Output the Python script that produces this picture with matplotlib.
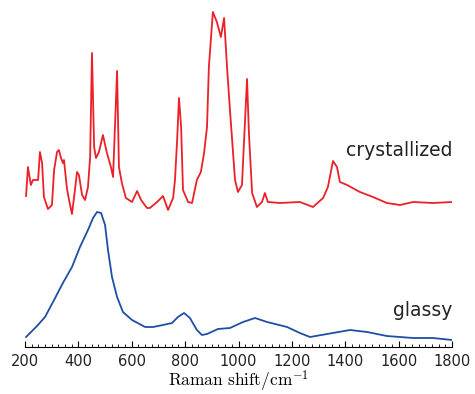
import numpy as np
import matplotlib
matplotlib.use("Agg")
import matplotlib.pyplot as plt
from matplotlib.ticker import MultipleLocator

# crystallized spectrum (Raman shift in cm-1, intensity in a.u.)
cryst_shift = [204, 211, 222, 230, 249, 256, 264, 271, 286, 301, 309, 320, 327, 335, 342, 346,
               357, 365, 376, 384, 395, 402, 414, 425, 436, 444, 451, 459, 466, 477, 492,
               507, 522, 530, 545, 552, 563, 578, 601, 620, 635, 657, 668, 695, 717, 736,
               755, 762, 770, 777, 785, 792, 811, 826, 844, 859, 871, 882, 889, 904, 919,
               934, 946, 957, 968, 987, 998, 1013, 1021, 1032, 1039, 1051, 1069, 1088,
               1099, 1110, 1155, 1230, 1279, 1317, 1335, 1354, 1369, 1380, 1407, 1455,
               1504, 1556, 1605, 1654, 1729, 1800]
cryst_int = [1.51, 1.80, 1.62, 1.67, 1.67, 1.95, 1.84, 1.50, 1.38, 1.42, 1.77, 1.95, 1.97, 1.89, 1.84, 1.87,
             1.59, 1.47, 1.33, 1.50, 1.75, 1.72, 1.52, 1.47, 1.60, 1.90, 2.94, 2.00, 1.89, 1.95, 2.12,
             1.94, 1.80, 1.70, 2.76, 1.80, 1.64, 1.49, 1.45, 1.56, 1.47, 1.39, 1.39, 1.45, 1.51, 1.37,
             1.49, 1.67, 2.07, 2.49, 2.20, 1.57, 1.45, 1.44, 1.67, 1.75, 1.94, 2.20, 2.80, 3.35, 3.25,
             3.10, 3.29, 2.80, 2.37, 1.67, 1.55, 1.62, 2.07, 2.68, 2.14, 1.54, 1.40, 1.45,
             1.54, 1.45, 1.44, 1.45, 1.40, 1.49, 1.60, 1.86, 1.80, 1.65, 1.62, 1.55,
             1.50, 1.44, 1.42, 1.45, 1.44, 1.45]

# glassy spectrum
glass_shift = [204, 245, 275, 305, 342, 376, 406, 436, 455, 470, 485, 500, 511, 526, 545,
               567, 601, 650, 680, 717, 751, 773, 796, 818, 844, 863, 882, 923, 968, 1017,
               1062, 1107, 1182, 1230, 1268, 1332, 1418, 1482, 1556, 1654, 1729, 1800]
glass_int = [0.10, 0.21, 0.30, 0.45, 0.64, 0.80, 1.00, 1.17, 1.29, 1.35, 1.34, 1.22, 0.97, 0.70, 0.50,
             0.35, 0.27, 0.20, 0.20, 0.22, 0.24, 0.30, 0.34, 0.29, 0.17, 0.12, 0.13, 0.18, 0.19, 0.25,
             0.29, 0.25, 0.20, 0.14, 0.10, 0.13, 0.17, 0.15, 0.11, 0.09, 0.09, 0.07]

plt.rcParams['mathtext.fontset'] = 'cm'

fig = plt.figure(figsize=(4.75, 3.94), dpi=100)
ax = fig.add_axes([25/475, 47/394, 427/475, 342/394])

ax.plot(cryst_shift, cryst_int, color='#ec2027', lw=1.3)
ax.plot(glass_shift, glass_int, color='#1f4ea6', lw=1.3)

ax.text(1800, 1.97, 'crystallized', ha='right', va='center', fontsize=13.5,
        family='DejaVu Sans', color='#222222')
ax.text(1800, 0.36, 'glassy', ha='right', va='center', fontsize=13.5,
        family='DejaVu Sans', color='#222222')

ax.set_xlim(200, 1800)
ax.set_ylim(0, 3.42)
ax.xaxis.set_major_locator(MultipleLocator(200))
ax.xaxis.set_minor_locator(MultipleLocator(25))
ax.tick_params(axis='x', which='major', direction='in', length=4, labelsize=10.5, pad=5,
               labelcolor='#222222')
ax.tick_params(axis='x', which='minor', direction='in', length=2)
ax.set_yticks([])
for s in ['top', 'left', 'right']:
    ax.spines[s].set_visible(False)
ax.set_xlabel(r'$\mathrm{Raman\ shift/cm^{-1}}$', fontsize=12.5, labelpad=0)

fig.savefig('out.png', dpi=100)
